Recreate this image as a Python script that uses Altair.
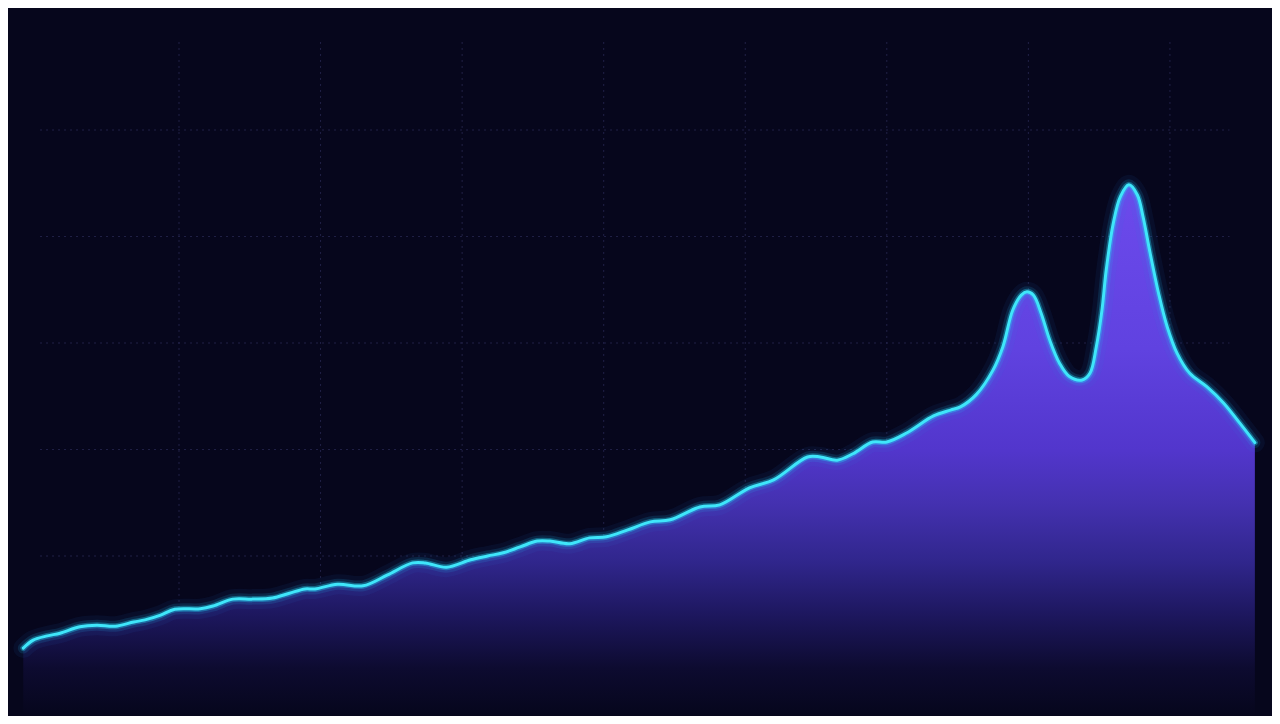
import altair as alt
import pandas as pd

# ---- series (x = time index, y = value) ----
t = [-1.0, -0.3, 0.7, 1.6, 3.0, 4.2, 5.5, 6.8, 7.6, 8.7, 9.7, 11.5, 12.4, 13.8, 15.2,
     16.6, 17.8, 18.9, 19.6, 21.2, 23.0, 24.7, 26.5, 27.4, 28.9, 30.6, 31.8, 32.9, 34.1,
     35.3, 36.2, 37.6, 39.0, 40.2, 41.7, 43.3, 44.7, 46.8, 48.2, 50.3, 52.0, 54.4, 55.3,
     56.5, 57.6, 59.0, 60.0, 61.4, 63.3, 64.5, 65.2, 66.35, 67.5, 68.2, 68.9, 69.5, 69.9,
     70.35, 70.9, 71.5, 72.2, 72.9, 73.8, 74.35, 74.8, 75.2, 75.5, 76.0, 76.5, 77.1, 77.7,
     78.1, 78.6, 79.2, 79.8, 80.5, 81.4, 82.6, 83.8, 84.95, 86.0]
v = [2.7, 4.2, 5.0, 5.5, 6.7, 7.0, 6.8, 7.6, 8.0, 8.9, 10.0, 10.1, 10.6, 11.9, 11.9,
     12.1, 13.0, 13.8, 13.8, 14.7, 14.4, 16.4, 18.7, 18.7, 17.9, 19.3, 20.0, 20.6, 21.7,
     22.8, 22.8, 22.3, 23.4, 23.6, 24.9, 26.4, 26.8, 29.2, 29.6, 32.8, 34.3, 38.6, 38.6,
     38.0, 39.2, 41.4, 41.4, 43.1, 46.3, 47.4, 48.0, 50.4, 54.9, 59.3, 66.2, 69.0, 69.6,
     69.0, 65.6, 60.6, 56.2, 53.7, 53.05, 54.3, 59.3, 66.2, 73.7, 82.5, 87.5, 89.7, 87.8,
     83.7, 76.9, 69.3, 63.1, 58.1, 54.3, 51.8, 48.7, 44.9, 41.3]

# ---- grid positions (tick values) ----
grid_rows = [0, 20, 40, 60, 80, 100]
grid_cols = [10, 20, 30, 40, 50, 60, 70, 80]
grid_row_span = [0.2, 84.2]
grid_col_span = [-10.0, 116.5]

X_DOMAIN = [-2.08, 87.21]
Y_DOMAIN = [-10.05, 122.91]

BG = "#06061c"

df = pd.DataFrame({"t": t, "v": v})
rows = pd.DataFrame({"v": grid_rows, "t0": grid_row_span[0], "t1": grid_row_span[1]})
cols = pd.DataFrame({"t": grid_cols, "v0": grid_col_span[0], "v1": grid_col_span[1]})

xs = alt.Scale(domain=X_DOMAIN, nice=False, zero=False)
ys = alt.Scale(domain=Y_DOMAIN, nice=False, zero=False)

grid_style = dict(color="#2e2e5a", strokeWidth=1, strokeDash=[1.5, 4.5], opacity=0.9)

h_grid = alt.Chart(rows).mark_rule(**grid_style).encode(
    y=alt.Y("v:Q", scale=ys, axis=None),
    x=alt.X("t0:Q", scale=xs, axis=None),
    x2="t1:Q",
)
v_grid = alt.Chart(cols).mark_rule(**grid_style).encode(
    x=alt.X("t:Q", scale=xs, axis=None),
    y=alt.Y("v0:Q", scale=ys, axis=None),
    y2="v1:Q",
)

fill = alt.Gradient(
    gradient="linear",
    x1=0, x2=0, y1=0, y2=1,
    stops=[
        alt.GradientStop(color="#6c4aec", offset=0.0),
        alt.GradientStop(color="#6042e0", offset=0.31),
        alt.GradientStop(color="#5236cc", offset=0.5),
        alt.GradientStop(color="#4431b0", offset=0.6),
        alt.GradientStop(color="#30268c", offset=0.71),
        alt.GradientStop(color="#1d175e", offset=0.81),
        alt.GradientStop(color="#0d0b30", offset=0.91),
        alt.GradientStop(color=BG, offset=1.0),
    ],
)

INTERP = "catmull-rom"

base = alt.Chart(df).encode(
    x=alt.X("t:Q", scale=xs, axis=None),
    y=alt.Y("v:Q", scale=ys, axis=None),
)

area = base.mark_area(interpolate=INTERP, color=fill).encode(
    y2=alt.datum(Y_DOMAIN[0])
)

glow1 = base.mark_line(interpolate=INTERP, color="#2a7fe0", strokeWidth=20,
                       opacity=0.07, strokeCap="round", strokeJoin="round")
glow2 = base.mark_line(interpolate=INTERP, color="#22b8f0", strokeWidth=11,
                       opacity=0.14, strokeCap="round", strokeJoin="round")
glow3 = base.mark_line(interpolate=INTERP, color="#22d4f4", strokeWidth=6,
                       opacity=0.35, strokeCap="round", strokeJoin="round")
core = base.mark_line(interpolate=INTERP, color="#3fe6fa", strokeWidth=3,
                      strokeCap="round", strokeJoin="round")

chart = alt.layer(h_grid, v_grid, area, glow1, glow2, glow3, core).properties(
    width=1264,
    height=708,
    background=BG,
    padding=0,
    autosize=alt.AutoSizeParams(type="none"),
).configure_view(stroke=None)

chart.save("out.html", embed_options={"renderer": "svg", "actions": False})
